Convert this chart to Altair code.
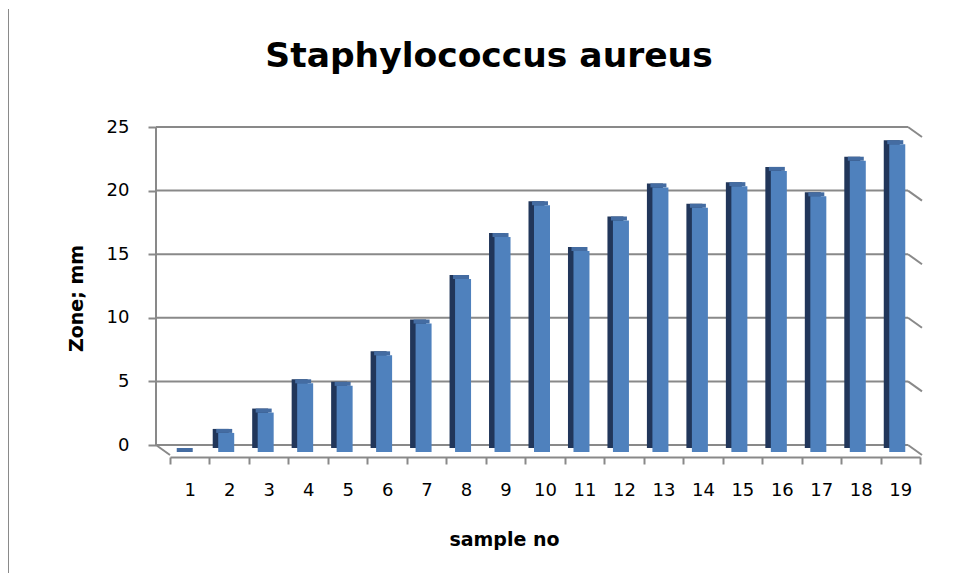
import altair as alt
import pandas as pd

# ---- data ----
samples = ["1", "2", "3", "4", "5", "6", "7", "8", "9", "10",
           "11", "12", "13", "14", "15", "16", "17", "18", "19"]
zone_mm = [0.0, 1.5, 3.1, 5.4, 5.2, 7.6, 10.1, 13.6, 16.9, 19.4,
           15.8, 18.2, 20.8, 19.2, 20.9, 22.1, 20.1, 22.9, 24.2]
y_ticks = [0, 5, 10, 15, 20, 25]

df = pd.DataFrame({"sample": samples, "zone": zone_mm})
grid_df = pd.DataFrame({"v": y_ticks})
axis_df = pd.DataFrame({"a": [25], "b": [0]})
floor_df = pd.DataFrame({"v": [0]})

W, H = 750, 318
PAD_L, PAD_T, PAD_R, PAD_B = 162, 126, 28, 121
GRAY = "#898989"
FONT = "DejaVu Sans"

y_scale = alt.Scale(domain=[0, 25], nice=False, zero=True)
y_axis = alt.Axis(values=y_ticks, tickOffset=-7, domain=False, grid=False,
                  ticks=True, tickSize=8, tickColor=GRAY, tickWidth=2,
                  offset=14, labelFont=FONT, labelFontSize=18,
                  labelColor="#000000", labelPadding=19,
                  titleFont=FONT, titleFontSize=19, titleFontWeight="bold",
                  titleColor="#000000", titleAngle=270, titleX=-80, titleY=164,
                  titleAlign="center", titleBaseline="middle")
x_axis = alt.Axis(labelAngle=0, offset=5, domainColor=GRAY, domainWidth=2,
                  tickColor=GRAY, tickWidth=2, tickSize=7, tickBand="extent",
                  labelFont=FONT, labelFontSize=18, labelColor="#000000",
                  labelPadding=17, titleFont=FONT, titleFontSize=19,
                  titleFontWeight="bold", titleColor="#000000",
                  titleX=334, titleAlign="center",
                  titleY=88, titleBaseline="alphabetic")

X = alt.X("sample:N", sort=samples, title="sample no",
          scale=alt.Scale(paddingInner=0, paddingOuter=0), axis=x_axis)
Y = alt.Y("zone:Q", title="Zone; mm", scale=y_scale, axis=y_axis)

base = alt.Chart(df)
side = base.mark_bar(size=16, xOffset=-8.5, yOffset=-4, y2Offset=-4,
                     color="#21365A").encode(x=X, y=Y, y2=alt.datum(0))
top = base.mark_bar(size=16, xOffset=-5, yOffset=-4, y2Offset=0,
                    color="#446CA2").encode(x=X, y=Y, y2="zone:Q")
front = base.mark_bar(size=16, xOffset=-3, color="#4F81BD").encode(
    x=X, y=Y, y2=alt.datum(0))

grid = alt.Chart(grid_df).mark_rule(color=GRAY, strokeWidth=2, xOffset=-14,
                                    x2Offset=-12, yOffset=-7).encode(
    y=alt.Y("v:Q", title="Zone; mm", scale=y_scale, axis=y_axis),
    x=alt.value(0), x2=alt.value(W))
diag = alt.Chart(grid_df).mark_rule(color=GRAY, strokeWidth=2, xOffset=-12,
                                    x2Offset=2, yOffset=-7, y2Offset=3).encode(
    y=alt.Y("v:Q", title="Zone; mm", scale=y_scale, axis=y_axis),
    y2="v:Q", x=alt.value(W), x2=alt.value(W))
yline = alt.Chart(axis_df).mark_rule(color=GRAY, strokeWidth=2, xOffset=-14,
                                     yOffset=-7, y2Offset=-7).encode(
    y=alt.Y("a:Q", title="Zone; mm", scale=y_scale, axis=y_axis),
    y2="b:Q", x=alt.value(0))
floor_l = alt.Chart(floor_df).mark_rule(color=GRAY, strokeWidth=2, xOffset=-14,
                                        x2Offset=0, yOffset=-7, y2Offset=3).encode(
    y=alt.Y("v:Q", title="Zone; mm", scale=y_scale, axis=y_axis),
    y2="v:Q", x=alt.value(0), x2=alt.value(0))
border = alt.Chart(floor_df).mark_rule(color="#8a8a8a", strokeWidth=1).encode(
    x=alt.value(-PAD_L + 0.5), y=alt.value(-PAD_T + 1),
    y2=alt.value(H + PAD_B))

chart = alt.layer(grid, diag, yline, floor_l, border, side, top, front).properties(
    width=W, height=H,
    title=alt.TitleParams("Staphylococcus aureus", font=FONT, fontSize=34.5,
                          fontWeight="bold", color="#000000", anchor="middle",
                          frame="group", baseline="alphabetic", offset=0,
                          dx=-56, dy=93),
    autosize=alt.AutoSizeParams(type="none"),
    padding={"left": PAD_L, "top": PAD_T, "right": PAD_R, "bottom": PAD_B},
    background="#ffffff",
).configure_view(stroke=None)

chart.save("out.html", embed_options={"renderer": "svg", "actions": False})
